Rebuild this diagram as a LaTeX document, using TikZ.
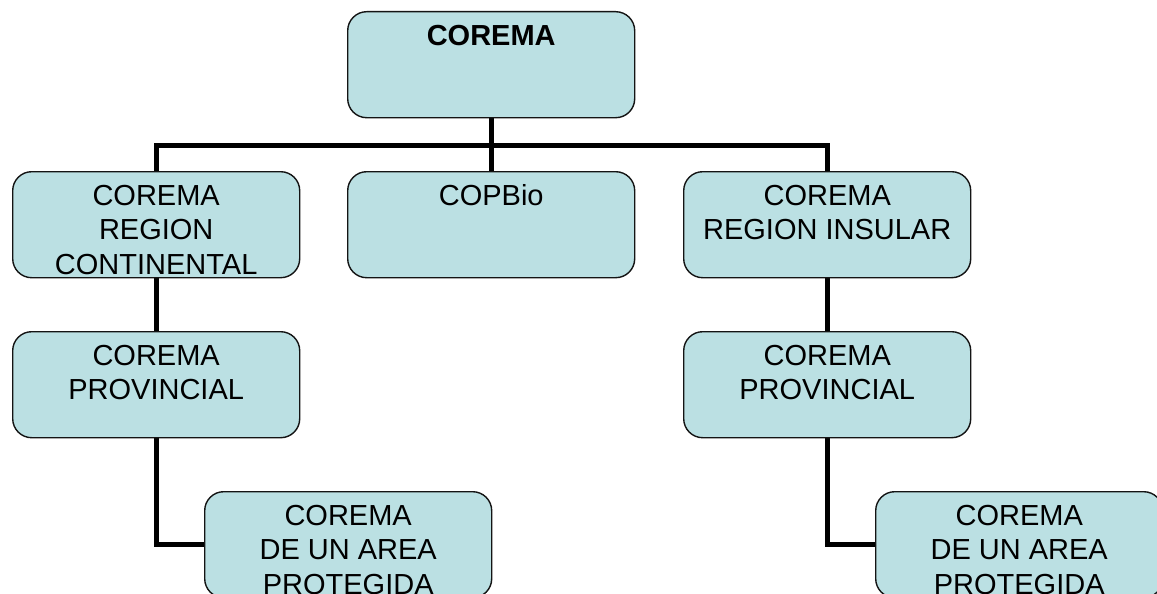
\documentclass[tikz,border=0pt]{standalone}
\usepackage{fontspec}
\setmainfont{Liberation Sans}
\usetikzlibrary{backgrounds}
\definecolor{boxfill}{RGB}{187,224,227}
\definecolor{boxline}{RGB}{20,20,20}
\newcommand{\boxtext}[1]{\parbox[c][106pt][t]{287pt}{\centering\fontsize{29}{34.5}\selectfont\rule{0pt}{33.5pt}#1}}
\tikzset{
  orgbox/.style={draw=boxline, line width=1.4pt, fill=boxfill, rounded corners=19pt,
    minimum width=287pt, minimum height=106pt, inner sep=0pt, anchor=north west},
  conn/.style={line width=5pt, draw=black}
}
\begin{document}
\begin{tikzpicture}[x=1pt,y=-1pt]
\clip (0,0) rectangle (1157,594);
\node[orgbox] (top) at (347,11) {\boxtext{\bfseries COREMA}};
\node[orgbox] (lc) at (12,171) {\boxtext{COREMA\\REGION\\CONTINENTAL}};
\node[orgbox] (cop) at (347,171) {\boxtext{COPBio}};
\node[orgbox] (rc) at (683,171) {\boxtext{COREMA\\REGION INSULAR}};
\node[orgbox] (lp) at (12,331) {\boxtext{COREMA\\PROVINCIAL}};
\node[orgbox] (rp) at (683,331) {\boxtext{COREMA\\PROVINCIAL}};
\node[orgbox] (la) at (204,491) {\boxtext{COREMA\\DE UN AREA\\PROTEGIDA}};
\node[orgbox] (ra) at (875,491) {\boxtext{COREMA\\DE UN AREA\\PROTEGIDA}};
\coordinate (bus) at (490.5,145);
\begin{scope}[on background layer]
\fill[white] (0,0) rectangle (1157,594);
\draw[conn] (top.south) -- (cop.north);
\draw[conn] (lc.north) |- (bus) -| (rc.north);
\draw[conn] (lc.south) -- (lp.north);
\draw[conn] (rc.south) -- (rp.north);
\draw[conn] (lp.south) |- (la.west);
\draw[conn] (rp.south) |- (ra.west);
\end{scope}
\end{tikzpicture}
\end{document}
